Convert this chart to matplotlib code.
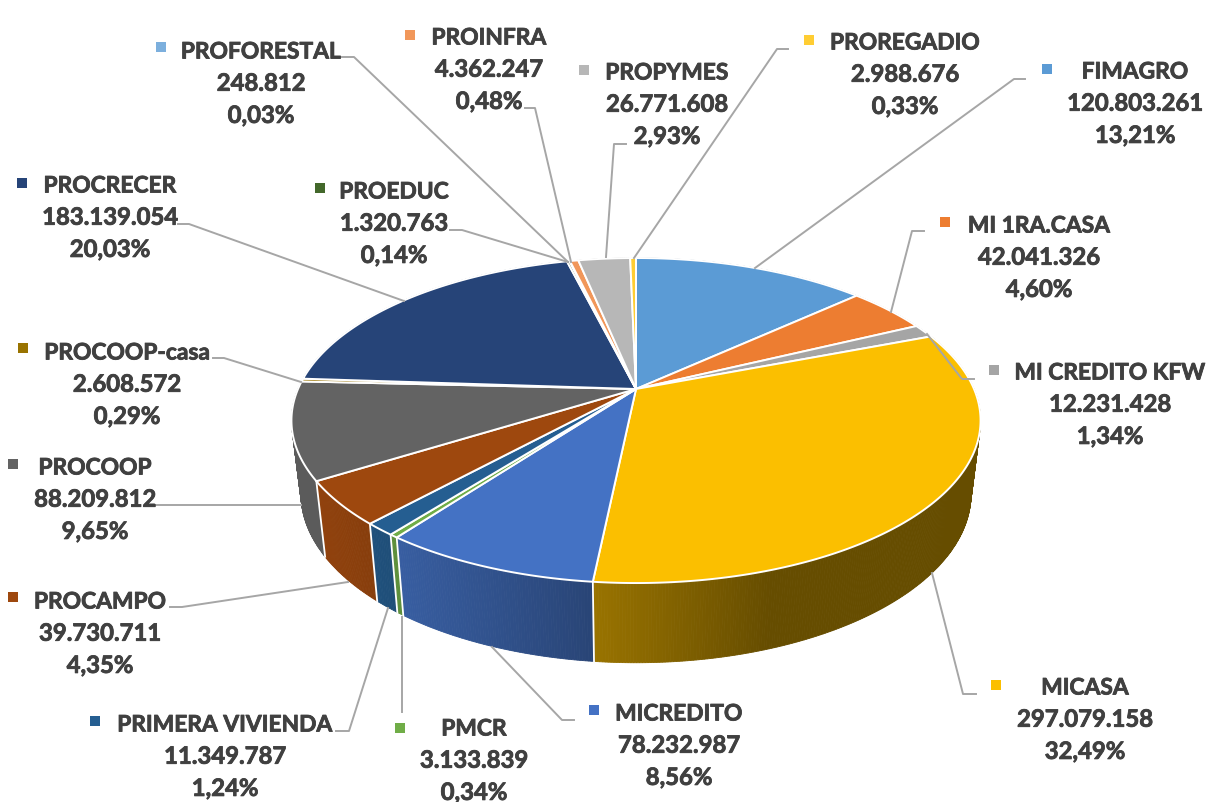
import numpy as np
import matplotlib
matplotlib.use('Agg')
import matplotlib.pyplot as plt
import matplotlib.patheffects as pe

names = ['FIMAGRO', 'MI 1RA.CASA', 'MI CREDITO KFW', 'MICASA', 'MICREDITO', 'PMCR',
         'PRIMERA VIVIENDA', 'PROCAMPO', 'PROCOOP', 'PROCOOP-casa', 'PROCRECER',
         'PROEDUC', 'PROFORESTAL', 'PROINFRA', 'PROPYMES', 'PROREGADIO']
values = [120803261, 42041326, 12231428, 297079158, 78232987, 3133839,
          11349787, 39730711, 88209812, 2608572, 183139054,
          1320763, 248812, 4362247, 26771608, 2988676]
colors = ['#5B9BD5', '#ED7D31', '#A5A5A5', '#FBBF00', '#4472C4', '#70AD47',
          '#255E91', '#9E480E', '#636363', '#997300', '#264478',
          '#43682B', '#7CAFDD', '#F1975A', '#B7B7B7', '#FFCD33']

# label centre x, y of first text line
label_pos = [(1135, 70), (1039, 224), (1110, 371), (1085, 686), (679, 712), (474, 727),
             (225, 723), (100, 600), (95, 466), (127, 351), (110, 184),
             (394, 190), (261, 50), (489, 36), (667, 71), (905, 41)]
key_pos = [(1047, 69), (945, 222), (994, 370), (996, 685), (594, 710), (400, 728),
           (95, 721), (13, 597), (13, 464), (23, 348), (22, 183),
           (320, 188), (161, 47), (410, 35), (584, 70), (809, 40)]
leaders = [
    [(1025, 79), (1014, 79), (755, 268)],
    [(924, 231), (912, 231), (891, 312)],
    [(974, 379), (962, 379), (927, 334)],
    [(976, 694), (963, 694), (932, 573)],
    [(574, 720), (562, 720), (492, 647)],
    [(402, 712), (402, 617)],
    [(336, 731), (349, 731), (388, 608)],
    [(170, 607), (182, 607), (348, 582)],
    [(155, 505), (301, 505)],
    [(213, 358), (224, 358), (301, 382)],
    [(178, 224), (189, 224), (404, 301)],
    [(450, 230), (462, 230), (568, 262)],
    [(342, 57), (354, 57), (568, 262)],
    [(525, 108), (535, 108), (571, 262)],
    [(626, 144), (614, 144), (606, 257)],
    [(788, 49), (777, 49), (634, 258)],
]

# pie geometry in pixels, perspective circle
CX = 636
TOP_Y, TOP_A, TOP_B = 389, 338, 156.4
BOT_Y, BOT_A, BOT_B = 461, 328.7, 162.6
PERSP = 0.194


def rim(theta, cy, a, b):
    # theta runs clockwise from 12 o'clock
    x, y = np.sin(theta), np.cos(theta)
    w = 1 + PERSP * y
    return CX + a * x / w, cy - b * y / w


def wall_shade(x):
    return np.clip(0.6 - (x - 594) * 0.00113, 0.4, 0.92)


fig = plt.figure(figsize=(12.12, 8.02), dpi=100)
ax = fig.add_axes([0, 0, 1, 1])
ax.set_xlim(0, 1212)
ax.set_ylim(802, 0)
ax.axis('off')

total = sum(values)
edges = np.concatenate([[0], np.cumsum(values)]) / total * 2 * np.pi

# side wall first, the top covers whatever is behind
for i, col in enumerate(colors):
    base = np.array(matplotlib.colors.to_rgb(col))
    if col == '#FBBF00':
        base = np.array(matplotlib.colors.to_rgb('#FFC000'))
    n = max(2, int((edges[i + 1] - edges[i]) / np.radians(0.4)))
    th = np.linspace(edges[i], edges[i + 1], n + 1)
    for t0, t1 in zip(th[:-1], th[1:]):
        tx0, ty0 = rim(t0, TOP_Y, TOP_A, TOP_B)
        tx1, ty1 = rim(t1, TOP_Y, TOP_A, TOP_B)
        bx0, by0 = rim(t0, BOT_Y, BOT_A, BOT_B)
        bx1, by1 = rim(t1, BOT_Y, BOT_A, BOT_B)
        c = base * wall_shade((tx0 + tx1) / 2)
        ax.fill([tx0, tx1, bx1, bx0], [ty0, ty1, by1, by0], color=c, lw=0.6, zorder=1)

for t in edges:
    tx, ty = rim(t, TOP_Y, TOP_A, TOP_B)
    bx, by = rim(t, BOT_Y, BOT_A, BOT_B)
    ax.plot([tx, bx], [ty, by], color='white', lw=1.3, zorder=2)

for i, col in enumerate(colors):
    n = max(2, int((edges[i + 1] - edges[i]) / np.radians(0.5)))
    th = np.linspace(edges[i], edges[i + 1], n + 1)
    xs, ys = rim(th, TOP_Y, TOP_A, TOP_B)
    ax.fill(np.r_[CX, xs], np.r_[TOP_Y, ys], facecolor=col, edgecolor='white',
            lw=1.4, joinstyle='round', zorder=3)

for pts in leaders:
    xs, ys = zip(*pts)
    ax.plot(xs, ys, color='#A6A6A6', lw=1.4, zorder=4)

bold = [pe.withStroke(linewidth=0.6, foreground='#404040')]
for name, val, (x, y), (kx, ky), col in zip(names, values, label_pos, key_pos, colors):
    val_txt = f'{val:,}'.replace(',', '.')
    pct_txt = f'{val / total * 100:.2f}%'.replace('.', ',')
    # baseline anchored so the comma does not push a line up
    for j, (line, fs) in enumerate([(name, 16.4), (val_txt, 17.2), (pct_txt, 17.2)]):
        ax.text(x, y + 8.5 + j * 32.2, line, ha='center', va='baseline', family='Lato',
                weight='bold', fontsize=fs, color='#404040', zorder=5, path_effects=bold)
    ax.scatter([kx], [ky], marker='s', s=46, color=col, linewidths=0, zorder=5)

fig.savefig('out.png', dpi=100, facecolor='white')
